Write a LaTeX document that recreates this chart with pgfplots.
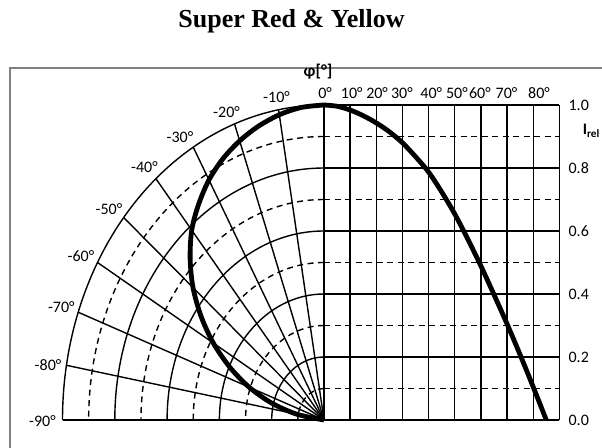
\documentclass[border=0pt]{standalone}
\usepackage{fontspec}
\setmainfont{Carlito}
\newfontfamily\timesfont{Liberation Serif}
\usepackage{pgfplots}
\usepackage{pgfplotstable}
\pgfplotsset{compat=1.18}
\definecolor{framegray}{RGB}{128,128,128}
\tikzset{lbl/.style={font=\fontsize{16bp}{19bp}\selectfont}}
\pgfplotstableread{
a I
0 1.000
5 0.996
10 0.984
15 0.966
20 0.943
25 0.915
30 0.880
35 0.836
40 0.787
45 0.724
50 0.654
55 0.574
60 0.489
65 0.398
70 0.305
75 0.207
80 0.105
85 0.000
}\ledtable
\begin{document}
\begin{tikzpicture}
\useasboundingbox (0,0) rectangle (602bp,448bp);
\clip (0,0) rectangle (602bp,448bp);
\fill[white] (0,0) rectangle (602bp,448bp);
\draw[framegray, line width=1.6bp] (10bp,380bp) rectangle (660bp,-30bp);
\node[anchor=base, font=\timesfont\bfseries\fontsize{26bp}{30bp}\selectfont] at (291.5bp,420.3bp) {Super Red \& Yellow};
\node[anchor=base, font=\bfseries\fontsize{17bp}{20bp}\selectfont] at (318bp,371bp) {φ[°]};
\begin{scope}[shift={(324bp,28bp)}, x=261.5bp, y=315bp, line width=1.4bp, line cap=butt]
  \foreach \x in {1,...,9} \draw (\x/10,0) -- (\x/10,1);
  \foreach \y in {2,4,6,8,10} \draw (0,\y/10) -- (0.9,\y/10);
  \foreach \y in {1,3,5,7,9} \draw[dash pattern=on 6bp off 4.5bp] (0,\y/10) -- (0.9,\y/10);
  \draw (-1,0) -- (0.9,0);
  \foreach \t in {0,10,...,80} \draw (0,0) -- ({-sin(\t)},{cos(\t)});
  \foreach \r in {2,4,6,8,10} \draw (0,\r/10) arc[start angle=90,end angle=180,x radius=\r/10,y radius=\r/10];
  \foreach \r in {1,3,5,7,9} \draw[dash pattern=on 6bp off 4.5bp] (0,\r/10) arc[start angle=90,end angle=180,x radius=\r/10,y radius=\r/10];
\end{scope}
\begin{axis}[
  at={(62.5bp,28bp)}, anchor=south west,
  x=261.5bp, y=315bp,
  xmin=-1, xmax=0.9, ymin=0, ymax=1,
  hide axis, clip=false,
]
\addplot[black, line width=4.8bp, smooth, line join=round] table[x expr=\thisrow{a}/100, y=I] {\ledtable};
\addplot[black, line width=4.8bp, smooth, line join=round] table[x expr={-\thisrow{I}*sin(\thisrow{a})}, y expr={\thisrow{I}*cos(\thisrow{a})}] {\ledtable};
% angle labels, polar half
\node[lbl] at (axis cs:-0.1816,1.0238) {-10°};
\node[lbl] at (axis cs:-0.3728,0.9778) {-20°};
\node[lbl] at (axis cs:-0.5507,0.8968) {-30°};
\node[lbl] at (axis cs:-0.6864,0.8016) {-40°};
\node[lbl] at (axis cs:-0.8222,0.6683) {-50°};
\node[lbl] at (axis cs:-0.9293,0.5206) {-60°};
\node[lbl] at (axis cs:-1.0046,0.3571) {-70°};
\node[lbl] at (axis cs:-1.0554,0.1746) {-80°};
\node[lbl] at (axis cs:-1.0765,-0.0032) {-90°};
% angle labels, cartesian half
\node[lbl,anchor=base] at (axis cs:0.004,1.0222) {0°};
\node[lbl,anchor=base] at (axis cs:0.106,1.0222) {10°};
\node[lbl,anchor=base] at (axis cs:0.203,1.0222) {20°};
\node[lbl,anchor=base] at (axis cs:0.298,1.0222) {30°};
\node[lbl,anchor=base] at (axis cs:0.410,1.0222) {40°};
\node[lbl,anchor=base] at (axis cs:0.508,1.0222) {50°};
\node[lbl,anchor=base] at (axis cs:0.596,1.0222) {60°};
\node[lbl,anchor=base] at (axis cs:0.698,1.0222) {70°};
\node[lbl,anchor=base] at (axis cs:0.822,1.0222) {80°};
% intensity labels
\node[lbl,anchor=west] at (axis cs:0.922,1.0) {1.0};
\node[lbl,anchor=west] at (axis cs:0.922,0.8) {0.8};
\node[lbl,anchor=west] at (axis cs:0.922,0.6) {0.6};
\node[lbl,anchor=west] at (axis cs:0.922,0.4) {0.4};
\node[lbl,anchor=west] at (axis cs:0.922,0.2) {0.2};
\node[lbl,anchor=west] at (axis cs:0.922,0.0) {0.0};
\node[lbl,anchor=west, inner sep=0pt] at (axis cs:0.989,0.9175) {\bfseries I\textsubscript{rel}};
\end{axis}
\end{tikzpicture}
\end{document}
